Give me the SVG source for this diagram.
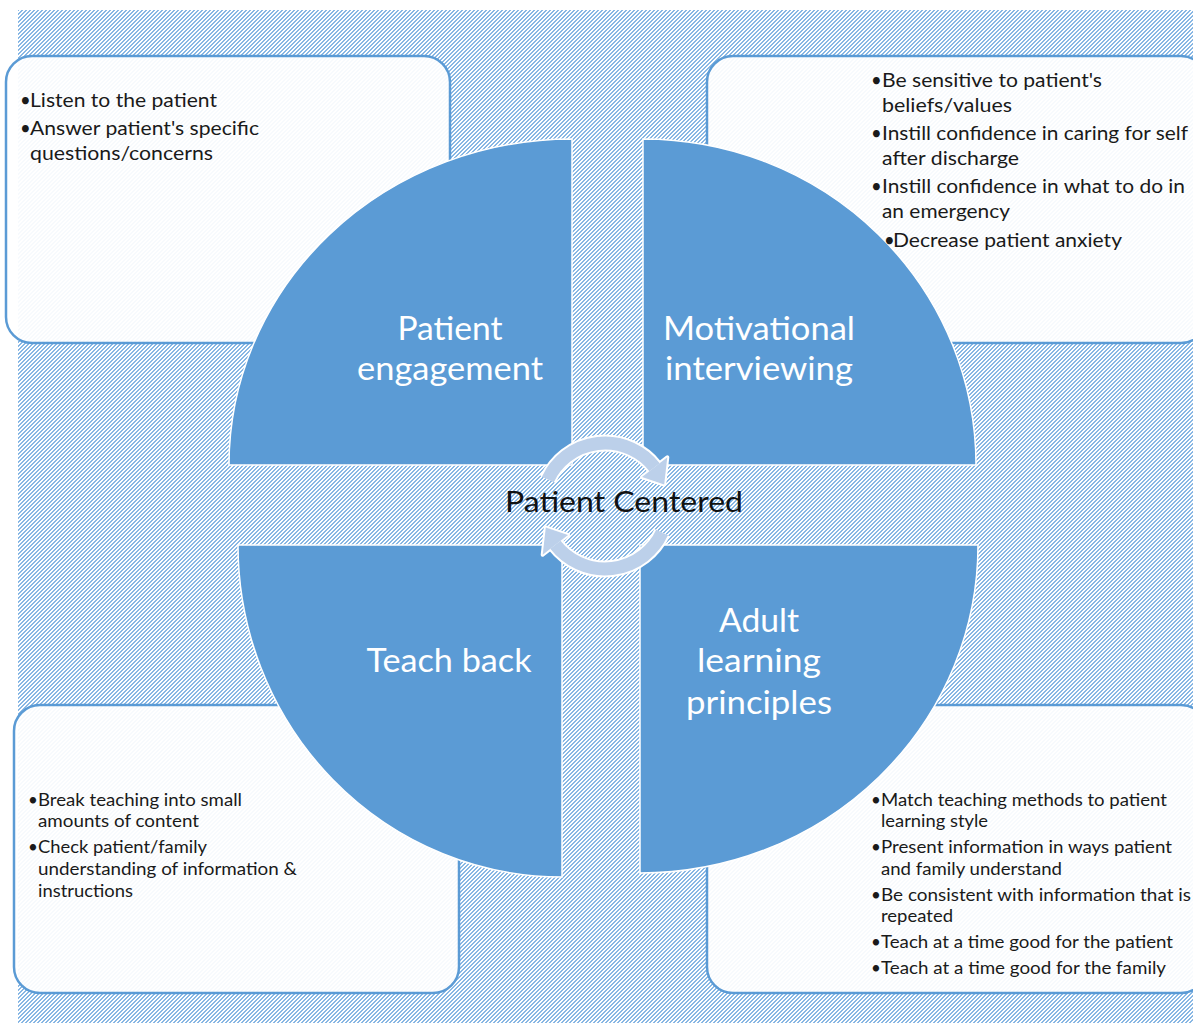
<svg xmlns="http://www.w3.org/2000/svg" width="1193" height="1023" viewBox="0 0 1193 1023">
<defs>
<pattern id="hatch" patternUnits="userSpaceOnUse" width="4" height="4">
<rect width="4" height="4" fill="#fff"/>
<path d="M3,0h1v1h-1z M0,0h1v1h-1z M2,1h2v1h-2z M1,2h2v1h-2z M0,3h2v1h-2z" fill="#88b7e4" shape-rendering="crispEdges"/>
</pattern>
<style>
.box{fill:#fff;fill-opacity:0.93;stroke:#5b9bd5;stroke-width:2.5}
.quad{fill:#5b9bd5;stroke:#fff;stroke-width:1.5}
.lbl{font-family:Lato,"Open Sans",sans-serif;font-size:33px;fill:#fff;text-anchor:middle}
.t{font-family:Lato,"Open Sans",sans-serif;font-size:18.5px;fill:#1a1a1a}
.s{font-family:Lato,"Open Sans",sans-serif;font-size:17px;fill:#1a1a1a}
.ringo{fill:none;stroke:#fff;stroke-width:17}
.ring{fill:none;stroke:#bcd0ea;stroke-width:13}
.heado{fill:#fff;stroke:#fff;stroke-width:4;stroke-linejoin:round}
.head{fill:#bcd0ea}
.center{font-family:Lato,"Open Sans",sans-serif;font-size:28px;fill:#111;text-anchor:middle}
</style>
</defs>
<rect x="18" y="10" width="1175" height="1013" fill="url(#hatch)"/>

<g id="box-tl"><rect class="box" x="6" y="56" width="444" height="287" rx="26"/></g>
<g id="box-tr"><rect class="box" x="707" y="56" width="500" height="287" rx="26"/></g>
<g id="box-bl"><rect class="box" x="14" y="705" width="445" height="288" rx="26"/></g>
<g id="box-br"><rect class="box" x="707" y="705" width="500" height="288" rx="26"/></g>

<g id="quad-engagement">
<path class="quad" d="M572,465 L229,465 A343,326 0 0 1 572,139 Z"/>
<text class="lbl" x="450" y="340" textLength="105" lengthAdjust="spacingAndGlyphs">Patient</text>
<text class="lbl" x="450" y="380" textLength="186" lengthAdjust="spacingAndGlyphs">engagement</text>
</g>
<g id="quad-motivational">
<path class="quad" d="M643,465 L643,139 A333,326 0 0 1 976,465 Z"/>
<text class="lbl" x="759" y="340" textLength="192" lengthAdjust="spacingAndGlyphs">Motivational</text>
<text class="lbl" x="759" y="380" textLength="188" lengthAdjust="spacingAndGlyphs">interviewing</text>
</g>
<g id="quad-teachback">
<path class="quad" d="M562,545 L562,877 A324,332 0 0 1 238,545 Z"/>
<text class="lbl" x="449" y="672" textLength="165" lengthAdjust="spacingAndGlyphs">Teach back</text>
</g>
<g id="quad-adult">
<path class="quad" d="M640,545 L978,545 A338,328 0 0 1 640,873 Z"/>
<text class="lbl" x="759" y="632" textLength="80" lengthAdjust="spacingAndGlyphs">Adult</text>
<text class="lbl" x="759" y="672" textLength="124" lengthAdjust="spacingAndGlyphs">learning</text>
<text class="lbl" x="759" y="714" textLength="146" lengthAdjust="spacingAndGlyphs">principles</text>
</g>

<g id="text-tl">
<text class="t" x="20" y="107">•</text><text class="t" x="30" y="107" textLength="187" lengthAdjust="spacingAndGlyphs">Listen to the patient</text>
<text class="t" x="20" y="135">•</text><text class="t" x="30" y="135" textLength="229" lengthAdjust="spacingAndGlyphs">Answer patient's specific</text>
<text class="t" x="30" y="160" textLength="183" lengthAdjust="spacingAndGlyphs">questions/concerns</text>
</g>
<g id="text-tr">
<text class="t" x="871" y="87">•</text><text class="t" x="882" y="87" textLength="220" lengthAdjust="spacingAndGlyphs">Be sensitive to patient's</text>
<text class="t" x="882" y="112" textLength="130" lengthAdjust="spacingAndGlyphs">beliefs/values</text>
<text class="t" x="871" y="140">•</text><text class="t" x="882" y="140" textLength="306" lengthAdjust="spacingAndGlyphs">Instill confidence in caring for self</text>
<text class="t" x="882" y="165" textLength="137" lengthAdjust="spacingAndGlyphs">after discharge</text>
<text class="t" x="871" y="193">•</text><text class="t" x="882" y="193" textLength="303" lengthAdjust="spacingAndGlyphs">Instill confidence in what to do in</text>
<text class="t" x="882" y="218" textLength="128" lengthAdjust="spacingAndGlyphs">an emergency</text>
<text class="t" x="884" y="247">•</text><text class="t" x="893" y="247" textLength="229" lengthAdjust="spacingAndGlyphs">Decrease patient anxiety</text>
</g>
<g id="text-bl">
<text class="s" x="28" y="806">•</text><text class="s" x="38" y="806" textLength="204" lengthAdjust="spacingAndGlyphs">Break teaching into small</text>
<text class="s" x="38" y="827" textLength="161" lengthAdjust="spacingAndGlyphs">amounts of content</text>
<text class="s" x="28" y="853">•</text><text class="s" x="38" y="853" textLength="169" lengthAdjust="spacingAndGlyphs">Check patient/family</text>
<text class="s" x="38" y="875" textLength="259" lengthAdjust="spacingAndGlyphs">understanding of information &amp;</text>
<text class="s" x="38" y="897" textLength="95" lengthAdjust="spacingAndGlyphs">instructions</text>
</g>
<g id="text-br">
<text class="s" x="871" y="806">•</text><text class="s" x="881" y="806" textLength="286" lengthAdjust="spacingAndGlyphs">Match teaching methods to patient</text>
<text class="s" x="881" y="827" textLength="107" lengthAdjust="spacingAndGlyphs">learning style</text>
<text class="s" x="871" y="853">•</text><text class="s" x="881" y="853" textLength="291" lengthAdjust="spacingAndGlyphs">Present information in ways patient</text>
<text class="s" x="881" y="875" textLength="181" lengthAdjust="spacingAndGlyphs">and family understand</text>
<text class="s" x="871" y="901">•</text><text class="s" x="881" y="901" textLength="310" lengthAdjust="spacingAndGlyphs">Be consistent  with information that is</text>
<text class="s" x="881" y="922" textLength="72" lengthAdjust="spacingAndGlyphs">repeated</text>
<text class="s" x="871" y="948">•</text><text class="s" x="881" y="948" textLength="292" lengthAdjust="spacingAndGlyphs">Teach at a time good for the patient</text>
<text class="s" x="871" y="974">•</text><text class="s" x="881" y="974" textLength="285" lengthAdjust="spacingAndGlyphs">Teach at a time good for the family</text>
</g>

<g id="connectors">
<path class="ringo" d="M547.9,479.4 A63,63 0 0 1 654.6,467.2"/>
<polygon class="heado" points="642,477 667.3,457.3 664.2,484.5"/>
<path class="ring" d="M547.9,479.4 A63,63 0 0 1 654.6,467.2"/>
<polygon class="head" points="642,477 667.3,457.3 664.2,484.5"/>
<path class="ringo" d="M662.1,532.6 A63,63 0 0 1 555.4,544.8"/>
<polygon class="heado" points="568,535 542.7,554.7 545.8,527.5"/>
<path class="ring" d="M662.1,532.6 A63,63 0 0 1 555.4,544.8"/>
<polygon class="head" points="568,535 542.7,554.7 545.8,527.5"/>
</g>

<g id="center-label">
<text class="center" x="624" y="512" textLength="238" lengthAdjust="spacingAndGlyphs">Patient Centered</text>
</g>
</svg>
